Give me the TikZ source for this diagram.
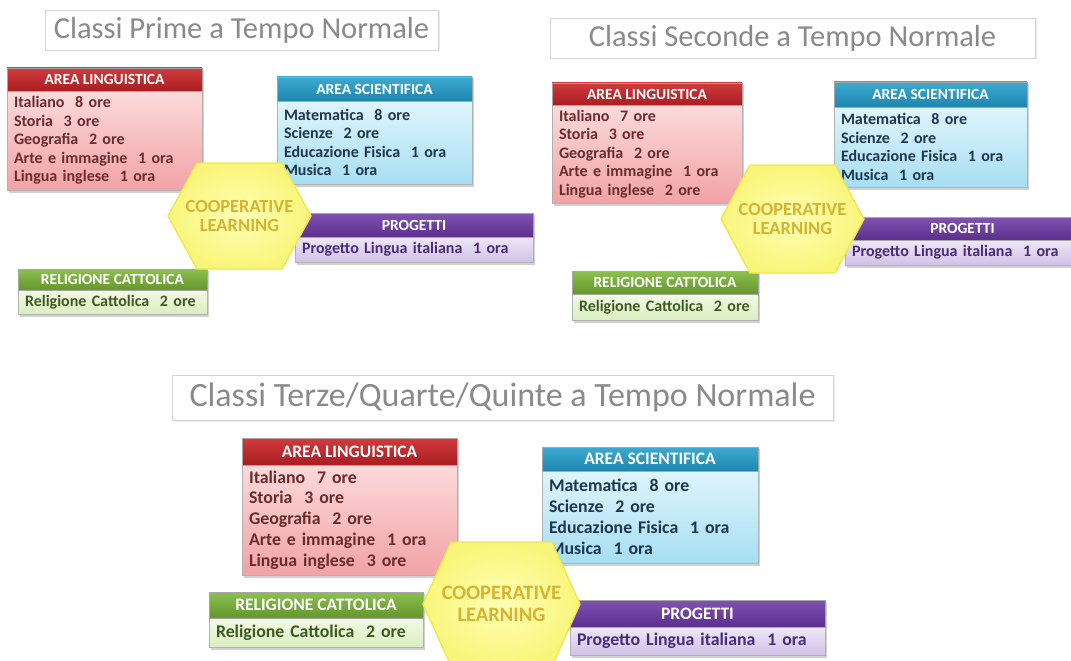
\documentclass[tikz,border=0pt]{standalone}
\usepackage{fontspec}
\setmainfont{Carlito}
\definecolor{lingHt}{HTML}{D23A3C}
\definecolor{lingHb}{HTML}{A81E22}
\definecolor{lingBt}{HTML}{FCDADA}
\definecolor{lingBb}{HTML}{F2A2A6}
\definecolor{lingT}{HTML}{6A2C2C}
\definecolor{sciHt}{HTML}{3CAAD2}
\definecolor{sciHb}{HTML}{1E86AE}
\definecolor{sciBt}{HTML}{DFF5FC}
\definecolor{sciBb}{HTML}{A6DEF2}
\definecolor{sciT}{HTML}{1F3550}
\definecolor{progHt}{HTML}{8052B2}
\definecolor{progHb}{HTML}{5C2E8E}
\definecolor{progBt}{HTML}{EFE8F7}
\definecolor{progBb}{HTML}{D0C1E6}
\definecolor{progT}{HTML}{4B2B7A}
\definecolor{relHt}{HTML}{8CC04E}
\definecolor{relHb}{HTML}{64962C}
\definecolor{relBt}{HTML}{F3FAE6}
\definecolor{relBb}{HTML}{DAEEC0}
\definecolor{relT}{HTML}{3E5A22}
\definecolor{hexIn}{HTML}{FFFFB4}
\definecolor{hexOut}{HTML}{F9F57A}
\definecolor{hexEdge}{HTML}{EDE84E}
\definecolor{hexT}{HTML}{D6B430}
\definecolor{titleT}{HTML}{8A8A8A}
\definecolor{titleE}{HTML}{D4D4D4}
\def\hsz{15.5}\def\bsz{16}\def\bls{18.6}\def\tsz{30.5}\def\xsz{18.5}
\tikzset{
  every node/.style={inner sep=0pt, outer sep=0pt},
  boxshadow/.style={fill=black, opacity=0.18},
  headbase/.style={draw=black!35, line width=0.4pt, text=white, align=center,
    font=\bfseries\fontsize{\hsz}{\hsz}\selectfont},
  bodybase/.style={draw=black!30, line width=0.4pt, align=left, inner xsep=7pt,
    font=\bfseries\fontsize{\bsz}{\bls}\selectfont},
  linghead/.style={headbase, top color=lingHt, bottom color=lingHb},
  lingbody/.style={bodybase, top color=lingBt, bottom color=lingBb, text=lingT},
  scihead/.style={headbase, top color=sciHt, bottom color=sciHb},
  scibody/.style={bodybase, top color=sciBt, bottom color=sciBb, text=sciT},
  proghead/.style={headbase, top color=progHt, bottom color=progHb},
  progbody/.style={bodybase, top color=progBt, bottom color=progBb, text=progT},
  relhead/.style={headbase, top color=relHt, bottom color=relHb},
  relbody/.style={bodybase, top color=relBt, bottom color=relBb, text=relT},
  titlebox/.style={draw=titleE, fill=white, line width=0.8pt, text=titleT,
    font=\fontsize{\tsz}{\tsz}\selectfont},
  hexshape/.style={draw=hexEdge, line width=1.4pt, line join=round, inner color=hexIn, outer color=hexOut},
  hextext/.style={text=hexT, align=center, font=\bfseries\fontsize{\xsz}{\xsz}\selectfont}
}
% #1 name, #2 kind, #3 x1, #4 top, #5 x2, #6 header bottom, #7 bottom, #8 header, #9 body
\newcommand\catbox[9]{%
  \pgfmathsetmacro\cbw{#5-#3}%
  \pgfmathsetmacro\cbhh{#6-#4}%
  \pgfmathsetmacro\cbbh{#7-#6}%
  \pgfmathsetmacro\cbtw{#5-#3-14}%
  \pgfmathsetmacro\sxa{#3+2}\pgfmathsetmacro\sya{#4+2}%
  \pgfmathsetmacro\sxb{#5+2}\pgfmathsetmacro\syb{#7+2.5}%
  \fill[boxshadow] (\sxa,\sya) rectangle (\sxb,\syb);
  \node[#2body, anchor=north west, minimum width=\cbw pt, minimum height=\cbbh pt,
    text width=\cbtw pt] (#1b) at (#3,#6) {#9};
  \node[#2head, anchor=north west, minimum width=\cbw pt, minimum height=\cbhh pt] (#1h) at (#3,#4) {#8};
}
% #1 name, #2 cx, #3 cy, #4 half width, #5 inset, #6 half height
\newcommand\hexa[6]{%
  \pgfmathsetmacro\hxa{#2-#4}\pgfmathsetmacro\hxb{#2-#4+#5}%
  \pgfmathsetmacro\hxc{#2+#4-#5}\pgfmathsetmacro\hxd{#2+#4}%
  \pgfmathsetmacro\hya{#3-#6}\pgfmathsetmacro\hyb{#3+#6}%
  \path[hexshape] (\hxa,#3) -- (\hxb,\hya) -- (\hxc,\hya) -- (\hxd,#3) -- (\hxc,\hyb) -- (\hxb,\hyb) -- cycle;
  \node[hextext] (#1) at (#2,#3) {COOPERATIVE\\[1pt]LEARNING};
}
% #1 name, #2 x1, #3 y1, #4 x2, #5 y2, #6 text
\newcommand\titlebx[6]{%
  \pgfmathsetmacro\tbw{#4-#2}\pgfmathsetmacro\tbh{#5-#3}%
  \pgfmathsetmacro\sxa{#2+1.5}\pgfmathsetmacro\sya{#3+1.5}%
  \pgfmathsetmacro\sxb{#4+1.5}\pgfmathsetmacro\syb{#5+1.5}%
  \fill[black, opacity=0.08] (\sxa,\sya) rectangle (\sxb,\syb);
  \node[titlebox, anchor=north west, minimum width=\tbw pt, minimum height=\tbh pt] (#1) at (#2,#3) {#6};
}
\begin{document}
\begin{tikzpicture}[x=1pt, y=-1pt]
\useasboundingbox (0,0) rectangle (1071,661);
\fill[white] (0,0) rectangle (1071,661);
% ---------- Panel 1 ----------
\titlebx{t1}{45}{10}{438}{50}{Classi Prime a Tempo Normale}
\catbox{l1}{ling}{7}{68}{202}{91}{190}{AREA LINGUISTICA}
  {Italiano~ 8 ore\\Storia~ 3 ore\\Geografia~ 2 ore\\Arte e immagine~ 1 ora\\Lingua inglese~ 1 ora}
\catbox{s1}{sci}{277}{77}{472}{101}{184}{AREA SCIENTIFICA}
  {Matematica~ 8 ore\\Scienze~ 2 ore\\Educazione Fisica~ 1 ora\\Musica~ 1 ora}
\catbox{p1}{prog}{295}{213}{533}{237}{262}{PROGETTI}
  {Progetto Lingua italiana~ 1 ora}
\catbox{r1}{rel}{18}{269}{207}{290}{314}{RELIGIONE CATTOLICA}
  {Religione Cattolica~ 2 ore}
\hexa{h1}{239.5}{216}{71.5}{29}{53}
% ---------- Panel 2 ----------
\titlebx{t2}{550}{18}{1035}{58}{Classi Seconde a Tempo Normale}
\catbox{l2}{ling}{552}{83}{742}{105}{203}{AREA LINGUISTICA}
  {Italiano~ 7 ore\\Storia~ 3 ore\\Geografia~ 2 ore\\Arte e immagine~ 1 ora\\Lingua inglese~ 2 ore}
\catbox{s2}{sci}{834}{82}{1027}{107}{187}{AREA SCIENTIFICA}
  {Matematica~ 8 ore\\Scienze~ 2 ore\\Educazione Fisica~ 1 ora\\Musica~ 1 ora}
\catbox{p2}{prog}{845}{217}{1080}{240}{265}{PROGETTI}
  {Progetto Lingua italiana~ 1 ora}
\catbox{r2}{rel}{572}{271}{758}{294}{320}{RELIGIONE CATTOLICA}
  {Religione Cattolica~ 2 ore}
\hexa{h2}{792.5}{219}{71.5}{29}{54}
% ---------- Panel 3 ----------
\def\hsz{17.5}\def\bsz{17.8}\def\bls{20.8}\def\tsz{34}\def\xsz{20.5}
\titlebx{t3}{172}{375}{833}{420}{Classi Terze/Quarte/Quinte a Tempo Normale}
\catbox{l3}{ling}{242}{438}{457}{465}{575}{AREA LINGUISTICA}
  {Italiano~ 7 ore\\Storia~ 3 ore\\Geografia~ 2 ore\\Arte e immagine~ 1 ora\\Lingua inglese~ 3 ore}
\catbox{s3}{sci}{542}{447}{758}{471}{563}{AREA SCIENTIFICA}
  {Matematica~ 8 ore\\Scienze~ 2 ore\\Educazione Fisica~ 1 ora\\Musica~ 1 ora}
\catbox{p3}{prog}{570}{600}{825}{627}{655}{PROGETTI}
  {Progetto Lingua italiana~ 1 ora}
\catbox{r3}{rel}{209}{592}{423}{618}{647}{RELIGIONE CATTOLICA}
  {Religione Cattolica~ 2 ore}
\hexa{h3}{501.5}{604}{78.5}{28}{62}
\end{tikzpicture}
\end{document}
